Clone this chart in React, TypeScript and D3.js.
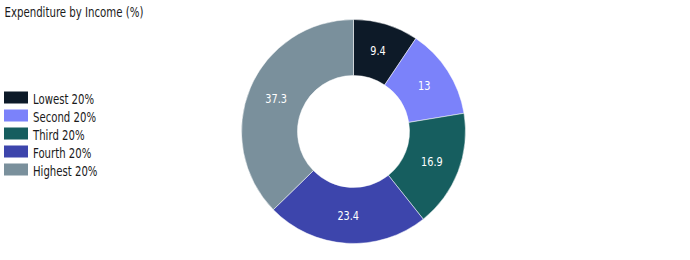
import React from "react";
import * as d3 from "d3";

const categories = ["Lowest 20%", "Second 20%", "Third 20%", "Fourth 20%", "Highest 20%"];
const values = [9.4, 13, 16.9, 23.4, 37.3];
const colors = ["#0d1a28", "#7b82fa", "#165e5f", "#3d45ac", "#7a909c"];
const title = "Expenditure by Income (%)";

const W = 690;
const H = 260;
const FONT = "'DejaVu Sans Condensed', 'DejaVu Sans', sans-serif";

function SText(props: {
  x: number;
  y: number;
  sx: number;
  size: number;
  fill: string;
  anchor?: string;
  dy?: string;
  children: React.ReactNode;
}) {
  return (
    <text
      transform={`translate(${props.x}, ${props.y}) scale(${props.sx}, 1)`}
      fontSize={props.size}
      fill={props.fill}
      textAnchor={props.anchor || "start"}
      dy={props.dy}
      fontStretch="condensed"
    >
      {props.children}
    </text>
  );
}

export default function App() {
  const cx = 353.5;
  const cy = 131.5;
  const outerR = 112;
  const innerR = 56;
  const pie = d3.pie<number>().sort(null).value((d) => d).startAngle(0).endAngle(2 * Math.PI);
  const arcs = pie(values);
  const arc = d3.arc<d3.PieArcDatum<number>>().innerRadius(innerR).outerRadius(outerR);
  const legendY = d3.scaleBand<string>().domain(categories).range([89, 179]);

  return (
    <svg width={W} height={H} style={{ position: "absolute", left: 0, top: 0 }} fontFamily={FONT}>
      <rect width={W} height={H} fill="#ffffff" />
      <SText x={4.5} y={17.3} sx={0.81} size={14} fill="#1a1a1a">{title}</SText>
      {categories.map((c, i) => (
        <g key={c} transform={`translate(4, ${legendY(c)})`}>
          <rect x={0} y={2.5} width={24} height={12} fill={colors[i]} />
          <SText x={29} y={15} sx={0.835} size={13.5} fill="#1a1a1a">{c}</SText>
        </g>
      ))}
      <g transform={`translate(${cx}, ${cy})`}>
        {arcs.map((a, i) => (
          <path key={i} d={arc(a) || ""} fill={colors[i]} stroke="#ffffff" strokeWidth={0.5} />
        ))}
        {arcs.map((a, i) => {
          const [x, y] = arc.centroid(a);
          return (
            <SText key={"l" + i} x={x} y={y} sx={0.9} dy="0.35em" anchor="middle" size={12} fill="#ffffff">
              {String(values[i])}
            </SText>
          );
        })}
      </g>
    </svg>
  );
}
